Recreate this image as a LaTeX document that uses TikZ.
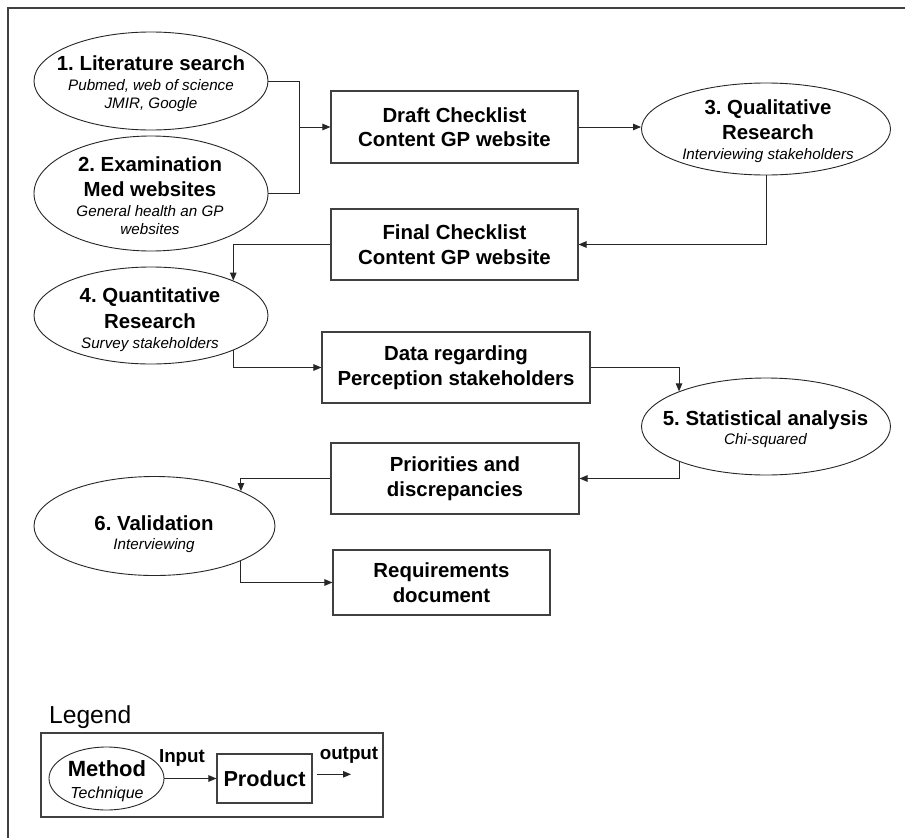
\documentclass[tikz,border=0pt]{standalone}
\usepackage{fontspec}
\setmainfont{Liberation Sans}
\usetikzlibrary{shapes.geometric,arrows.meta}
\frenchspacing
\newcommand\mb[1]{{\fontsize{20.4}{18}\selectfont\bfseries #1}}
\newcommand\mi[1]{{\fontsize{15.2}{18}\selectfont\itshape #1}}
\tikzset{
 ln/.style={draw=black!85, line width=1pt},
 arr/.style={ln, -{Triangle[length=8pt,width=6.5pt]}},
 ell/.style={ellipse, draw=black!85, line width=0.9pt, inner sep=0pt},
 box/.style={rectangle, draw=black!75, line width=1.1pt, inner sep=0pt, align=center, font=\fontsize{20.4}{24.5}\selectfont\bfseries},
 txt/.style={inner sep=0pt, align=center, anchor=north, font=\fontsize{15.2}{18}\selectfont},
}
\begin{document}
\begin{tikzpicture}[x=1pt,y=-1pt]
\useasboundingbox (0,0) rectangle (905,838);
\fill[white] (0,0) rectangle (905,838);
% frame
\draw[line width=2pt, draw=black!75] (7.5,845) -- (7.5,8.3) -- (912,8.3);

% ellipses
\node[ell, minimum width=234pt, minimum height=98pt] (e1) at (151,81) {};
\node[ell, minimum width=234pt, minimum height=115pt] (e2) at (151,193.5) {};
\node[ell, minimum width=249pt, minimum height=92pt] (e3) at (766,129) {};
\node[ell, minimum width=234pt, minimum height=97pt] (e4) at (151,315.5) {};
\node[ell, minimum width=249pt, minimum height=97pt] (e5) at (766,426.5) {};
\node[ell, minimum width=241pt, minimum height=99pt] (e6) at (154.5,526) {};

\node[txt] (e1t) at (151,55.6) {\mb{1. Literature search}\\[1.7pt]\mi{Pubmed, web of science}\\\mi{JMIR, Google}};
\node[txt] (e2t) at (150,156.6) {\mb{2. Examination}\\[7pt]\mb{Med websites}\\[1.7pt]\mi{General health an GP}\\\mi{websites}};
\node[txt] (e3t) at (768,99.6) {\mb{3. Qualitative}\\[5pt]\mb{Research}\\[1.7pt]\mi{Interviewing stakeholders}};
\node[txt] (e4t) at (150,287.6) {\mb{4. Quantitative}\\[6pt]\mb{Research}\\[1.7pt]\mi{Survey stakeholders}};
\node[txt] (e5t) at (765.5,410.6) {\mb{5. Statistical analysis}\\[0.7pt]\mi{Chi-squared}};
\node[txt] (e6t) at (154,515.6) {\mb{6. Validation}\\[0.7pt]\mi{Interviewing}};

% boxes
\node[box, minimum width=247pt, minimum height=72pt] (draft) at (454.5,127) {Draft Checklist\\Content GP website};
\node[box, minimum width=247pt, minimum height=71pt] (final) at (454.5,244.5) {Final Checklist\\Content GP website};
\node[box, minimum width=268pt, minimum height=71pt] (data) at (456,367.5) {Data regarding\\Perception stakeholders};
\node[box, minimum width=248pt, minimum height=71pt] (prio) at (455,478.5) {Priorities and\\discrepancies};
\node[box, minimum width=217pt, minimum height=65pt] (req) at (441.5,582.5) {Requirements\\document};

% connectors
\coordinate (j1) at (299,127);
\draw[ln] (e1.east) -| (j1);
\draw[ln] (e2.east) -| (j1);
\draw[arr] (j1) -- (draft.west);
\draw[arr] (draft.east) -- (draft.east -| e3.west);
\draw[arr] (e3.south) |- (final.east);
\draw[arr] (final.west) -| (e4.23);
\draw[arr] (e4.-23) |- (data.west);
\draw[arr] (data.east) -| (e5.158);
\draw[arr] (e5.-158) |- (prio.east);
\draw[arr] (prio.west) -| (e6.22);
\draw[arr] (e6.-22) |- (req.west);

% legend
\node[anchor=base west, inner sep=0pt, font=\fontsize{24.6}{28}\selectfont] (leg) at (49,723.6) {Legend};
\node[draw=black!75, line width=1.1pt, minimum width=342pt, minimum height=84pt, inner sep=0pt] (legbox) at (212,775) {};
\node[ell, minimum width=115pt, minimum height=63pt] (lm) at (106.5,778.5) {};
\node[txt] (lmt) at (107,760.1) {{\fontsize{22}{18}\selectfont\bfseries Method}\\[4pt]{\fontsize{16}{18}\selectfont\itshape Technique}};
\node[box, minimum width=95pt, minimum height=49pt, font=\fontsize{21.7}{24}\selectfont\bfseries] (prod) at (264.5,778.5) {Product};
\draw[arr] (lm.east) -- (prod.west);
\node[anchor=base, inner sep=0pt, font=\fontsize{18.8}{20}\selectfont\bfseries] (inl) at (182,762) {Input};
\node[anchor=base, inner sep=0pt, font=\fontsize{18.8}{20}\selectfont\bfseries] (outl) at (349,759) {output};
\coordinate (o1) at (317,774.3);
\coordinate (o2) at (351,774.3);
\draw[arr] (o1) -- (o2);
\end{tikzpicture}
\end{document}
